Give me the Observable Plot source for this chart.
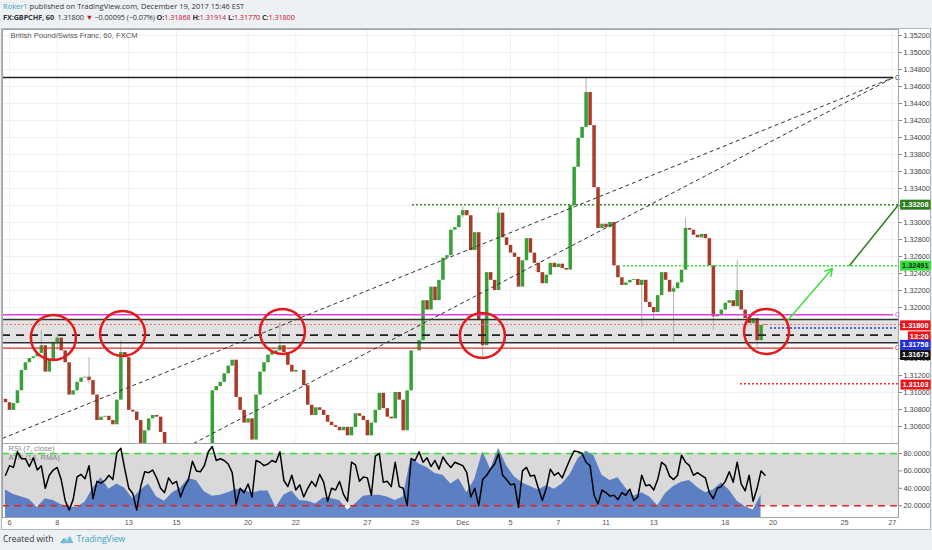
<!DOCTYPE html>
<html>
<head>
<meta charset="utf-8">
<script src="https://cdn.jsdelivr.net/npm/d3@7"></script>
<script src="https://cdn.jsdelivr.net/npm/@observablehq/plot@0.6"></script>
<style>
  body { margin: 0; width: 932px; height: 550px; overflow: hidden; position: relative;
         background: #eef1f4; font-family: "Open Sans", sans-serif; color: #333; }
  .line { position: absolute; left: 3px; white-space: nowrap; }
  #h1 { top: 1px; font-size: 7.5px; }
  #h2 { top: 12px; font-size: 7.3px; letter-spacing: -0.1px; }
  .tv { color: #3ba1c6; }
  .red { color: #c8102e; }
  #frame { position: absolute; left: 1px; top: 28px; width: 930px; height: 502px;
           box-sizing: border-box; border: 1px solid #b4b8bc; background: #fff; }
  #main, #ind { position: absolute; left: 0; }
  #main { top: 0; }
  #ind { top: 414px; }
  #foot { position: absolute; left: 3px; top: 533px; font-size: 8.5px; white-space: nowrap; }
  #foot svg { vertical-align: -3px; margin: 0 3px 0 5px; }
</style>
</head>
<body>
<div id="h1" class="line"><span class="tv">Roker1</span> published on TradingView.com, December 19, 2017 15:46 EST</div>
<div id="h2" class="line"><b>FX:GBPCHF, 60</b>&nbsp; 1.31800 <span class="red">▼</span> −0.00095 (−0.07%) <b>O:</b><span class="red">1.31868</span> <b>H:</b><span class="red">1.31914</span> <b>L:</b><span class="red">1.31770</span> <b>C:</b><span class="red">1.31800</span></div>
<div id="frame"><div id="main"></div><div id="ind"></div></div>
<div id="foot">Created with<svg width="15" height="11" viewBox="0 0 15 11"><path d="M1 9 L5 4 L8 7 L11 2 L14 9 Z" fill="#3ba1c6"/><path d="M3 10 Q1 6 5 6 Q6 2 10 4 Q14 4 13 9 Z" fill="#9fd3e8" opacity="0.6"/></svg><span class="tv">TradingView</span></div>
<script>
// hourly GBPCHF, read every 4 hours (6 bars per trading day), day 0 = Nov 6
const startDay = -1 / 6;
const barsPerDay = 6;
const firstOpen = 1.3092;
const closes = [
  1.3088, 1.3079, 1.3087, 1.3102, 1.3126, 1.3135, 1.3140, 1.3142, 1.3146, 1.3155,
  1.3124, 1.3138, 1.3159, 1.3164, 1.3149, 1.3135, 1.3097, 1.3102, 1.3112, 1.3117,
  1.3118, 1.3114, 1.3097, 1.3067, 1.3071, 1.3072, 1.3067, 1.3062, 1.3091, 1.3147,
  1.3141, 1.3079, 1.3077, 1.3067, 1.3029, 1.3055, 1.3069, 1.3073, 1.3071, 1.3053,
  1.3026, 1.3020, 1.3014, 1.3022, 1.3018, 1.3008, 1.3013, 1.3020, 1.3014, 1.3006,
  1.3011, 1.3020, 1.3102, 1.3107, 1.3112, 1.3122, 1.3131, 1.3138, 1.3094, 1.3079,
  1.3064, 1.3069, 1.3044, 1.3097, 1.3124, 1.3135, 1.3144, 1.3147, 1.3149, 1.3155,
  1.3147, 1.3132, 1.3124, 1.3126, 1.3126, 1.3108, 1.3085, 1.3073, 1.3082, 1.3079,
  1.3073, 1.3065, 1.3061, 1.3059, 1.3055, 1.3059, 1.3049, 1.3059, 1.3075, 1.3072,
  1.3067, 1.3049, 1.3064, 1.3079, 1.3099, 1.3081, 1.3071, 1.3069, 1.3100, 1.3091,
  1.3055, 1.3102, 1.3149, 1.3149, 1.3161, 1.3208, 1.3197, 1.3224, 1.3208, 1.3232,
  1.3258, 1.3261, 1.3291, 1.3294, 1.3308, 1.3314, 1.3308, 1.3267, 1.3288, 1.3185,
  1.3155, 1.3241, 1.3232, 1.3220, 1.3311, 1.3282, 1.3273, 1.3264, 1.3259, 1.3224,
  1.3255, 1.3281, 1.3264, 1.3252, 1.3241, 1.3228, 1.3238, 1.3252, 1.3247, 1.3251,
  1.3246, 1.3244, 1.3320, 1.3365, 1.3399, 1.3412, 1.3453, 1.3414, 1.3341, 1.3293,
  1.3298, 1.3294, 1.3300, 1.3249, 1.3235, 1.3226, 1.3229, 1.3232, 1.3233, 1.3226,
  1.3232, 1.3206, 1.3200, 1.3194, 1.3214, 1.3241, 1.3232, 1.3218, 1.3222, 1.3229,
  1.3244, 1.3293, 1.3291, 1.3285, 1.3282, 1.3286, 1.3281, 1.3249, 1.3189, 1.3191,
  1.3197, 1.3205, 1.3208, 1.3201, 1.3220, 1.3197, 1.3187, 1.3181, 1.3187, 1.3161,
  1.3179, 1.3180
];
// the wicks that stand out
const wickBars  = [9, 13, 21, 29, 69, 115, 120, 124, 146, 160, 163, 168, 171, 178, 184, 189];
const wickHighs = [1.3173, 1.3169, 1.3141, 1.3161, 1.3182, 1.3318, 1.3175, 1.3318, 1.3469, 1.3232, 1.3200, 1.3225, 1.3305, 1.3195, 1.3255, 1.3175];
const wickLows  = [1.3150, 1.3150, 1.3110, 1.3140, 1.3150, 1.3305, 1.3140, 1.3300, 1.3440, 1.3177, 1.3185, 1.3158, 1.3285, 1.3173, 1.3215, 1.3153];

// RSI (7, close), same 4-hour steps
const rsi = [
  55, 66, 64, 82, 74, 74, 65, 75, 61, 66, 40, 55, 61, 64, 50, 26, 15, 27, 53, 56,
  51, 66, 28, 48, 46, 49, 55, 50, 81, 86, 62, 40, 34, 15, 42, 59, 58, 61, 52, 40,
  35, 52, 45, 48, 30, 42, 50, 71, 60, 59, 66, 82, 88, 72, 74, 72, 68, 58, 22, 40,
  35, 45, 30, 72, 70, 66, 68, 72, 70, 82, 49, 42, 55, 38, 44, 30, 40, 48, 42, 56,
  47, 25, 40, 38, 48, 33, 25, 70, 67, 48, 53, 52, 32, 77, 80, 47, 48, 42, 70, 42,
  40, 20, 74, 72, 82, 70, 75, 65, 72, 62, 76, 69, 64, 70, 68, 66, 58, 30, 40, 20,
  50, 55, 62, 68, 80, 55, 50, 44, 45, 18, 60, 64, 54, 55, 40, 26, 40, 62, 55, 58,
  52, 63, 74, 83, 82, 80, 70, 66, 32, 22, 38, 35, 31, 32, 27, 35, 32, 39, 26, 30,
  55, 43, 44, 38, 50, 70, 66, 54, 50, 55, 78, 70, 66, 55, 58, 55, 52, 35, 28, 40,
  42, 48, 59, 47, 70, 45, 37, 55, 25, 40, 60, 55
];
// ATR (14, RMA) as drawn in the same pane, every 8 hours
const atr = [
  38, 33, 30, 27, 18, 28, 26, 21, 19, 18, 24, 40, 52, 39, 45, 40, 28, 38, 45, 30,
  25, 35, 40, 51, 49, 36, 31, 32, 35, 39, 38, 34, 37, 37, 18, 32, 37, 26, 25, 22,
  29, 28, 26, 15, 22, 31, 32, 32, 30, 26, 30, 75, 68, 64, 57, 55, 45, 51, 35, 50,
  82, 62, 86, 66, 53, 46, 42, 38, 43, 39, 45, 56, 74, 83, 77, 55, 49, 52, 40, 31,
  35, 30, 20, 34, 42, 47, 49, 41, 35, 38, 46, 38, 25, 19, 15, 32
];
const rsiLevels = [20, 80];
const rsiTicks = [20, 40, 60, 80];

const tickDays = [0, 2, 5, 7, 10, 12, 15, 17, 19, 21, 23, 25, 27, 30, 32, 35, 37];
const tickLabels = ["6", "8", "13", "15", "20", "22", "27", "29", "Dec", "5", "7", "11", "13", "18", "20", "25", "27"];
// 1.31600 sits under the price tags, so it has no label
const priceTicks = [
  1.306, 1.308, 1.310, 1.312, 1.314, 1.318, 1.320, 1.322, 1.324, 1.326, 1.328, 1.330,
  1.332, 1.334, 1.336, 1.338, 1.340, 1.342, 1.344, 1.346, 1.348, 1.350, 1.352
];

// drawings on the chart
const topLine = 1.34706;
const apexDay = 37.05;
const trendStartDays = [-0.29, 7.71];
const trendStartPrices = [1.3046, 1.3040];
const magentaLine = 1.31914;
const zone = [1.31585, 1.31859];
const midLine = 1.31675;
const redLine = 1.31521;
const targetHigh = 1.33208, targetHighFrom = 16.89;
const targetLow = 1.32491, targetLowFrom = 25.73;
const stopLevel = 1.31103, stopFrom = 30.64;
const bidLevel = 1.31758, bidFrom = 31.9;
const arrowFrom = [32.61, 1.31847], arrowTo = [34.49, 1.32459];
const legFrom = [35.2, 1.32491], legTo = [37.26, 1.33208];
const circleDays = [1.84, 4.74, 11.44, 19.82, 31.73];
const circlePrices = [1.31647, 1.31694, 1.31718, 1.31671, 1.31718];

const tagPrices = [1.33208, 1.32491, 1.31800, 1.31800, 1.31758, 1.31675, 1.31103];
const tagLabels = ["1.33208", "1.32491", "1.31800", "13:20", "1.31758", "1.31675", "1.31103"];
const tagStyle = [
  { bg: "#2f7d1e", fg: "#fff", dy: 0 },
  { bg: "#2fe02f", fg: "#123", dy: 0 },
  { bg: "#e8141a", fg: "#fff", dy: 1 },
  { bg: "#e8141a", fg: "#fff", dy: 12 },
  { bg: "#1c2ee0", fg: "#fff", dy: 17 },
  { bg: "#111111", fg: "#fff", dy: 20 },
  { bg: "#e8141a", fg: "#fff", dy: 1 }
];

const dayOf = (i) => startDay + i / barsPerDay;
const xDomain = [-0.293, 37.26];
const font = "'Liberation Sans', Arial, sans-serif";
const up = "#37a037", down = "#a83c2a";

const candles = closes.map((c, i) => ({
  t: dayOf(i),
  open: i ? closes[i - 1] : firstOpen,
  close: c
}));
const wicks = wickBars.map((b, i) => ({ t: dayOf(b), high: wickHighs[i], low: wickLows[i] }));
const rsiData = rsi.map((v, i) => ({ t: dayOf(i), v }));
const atrData = atr.map((v, k) => ({ t: dayOf(2 * k), v }));
const trends = trendStartDays.map((d, i) => ({ d1: d, p1: trendStartPrices[i], d2: apexDay, p2: topLine }));
const circles = circleDays.map((d, i) => ({ d, p: circlePrices[i] }));
const tags = tagPrices.map((p, i) => ({ p, label: tagLabels[i], ...tagStyle[i] }));
const lastClose = closes[closes.length - 1];
const labelOf = new Map(tickDays.map((d, i) => [d, tickLabels[i]]));

const main = Plot.plot({
  width: 928,
  height: 414,
  marginLeft: 0,
  marginRight: 32,
  marginTop: 0,
  marginBottom: 0,
  style: { background: "transparent", fontFamily: font, overflow: "visible" },
  x: { domain: xDomain, axis: null },
  y: { domain: [1.304, 1.35271] },
  color: { type: "identity" },
  marks: [
    Plot.gridX(tickDays, { stroke: "#eef0f3", strokeOpacity: 1 }),
    Plot.gridY(priceTicks, { stroke: "#eef0f3", strokeOpacity: 1 }),
    Plot.rect([zone], { y1: (z) => z[0], y2: (z) => z[1], fill: "#e2e2e2" }),
    Plot.text(["British Pound/Swiss Franc, 60, FXCM"], {
      frameAnchor: "top-left", dx: 8, dy: 6, lineAnchor: "middle", fill: "#555", fontSize: 7.6
    }),
    Plot.ruleX(wicks, { x: "t", y1: "low", y2: "high", stroke: "#b0b0b0", strokeWidth: 1, clip: true }),
    Plot.ruleX(candles, {
      x: "t", y1: "open", y2: "close",
      stroke: (d) => (d.close >= d.open ? up : down),
      strokeWidth: 3.5, clip: true
    }),
    Plot.ruleY([topLine], { x1: xDomain[0], x2: apexDay, stroke: "#222", strokeWidth: 1.5 }),
    Plot.ruleY([magentaLine], { x1: xDomain[0], x2: apexDay, stroke: "#e040e0", strokeWidth: 1.5 }),
    Plot.ruleY(zone, { stroke: "#333", strokeWidth: 1.5 }),
    Plot.ruleY([lastClose], { stroke: "#f07070", strokeWidth: 1, strokeDasharray: "2,2" }),
    Plot.ruleY([midLine], { stroke: "#222", strokeWidth: 1.8, strokeDasharray: "8,6" }),
    Plot.ruleY([redLine], { x1: xDomain[0], x2: apexDay, stroke: "#e22a2a", strokeWidth: 1.3 }),
    Plot.ruleY([targetHigh], { x1: targetHighFrom, x2: xDomain[1], stroke: "#3c8a26", strokeWidth: 1.5, strokeDasharray: "2,2" }),
    Plot.ruleY([targetLow], { x1: targetLowFrom, x2: xDomain[1], stroke: "#33dd33", strokeWidth: 1.5, strokeDasharray: "2,2" }),
    Plot.ruleY([stopLevel], { x1: stopFrom, x2: xDomain[1], stroke: "#ee2a2a", strokeWidth: 1.5, strokeDasharray: "2,2" }),
    Plot.ruleY([bidLevel], { x1: bidFrom, x2: xDomain[1], stroke: "#2233dd", strokeWidth: 1.5, strokeDasharray: "2,2" }),
    Plot.link(trends, { x1: "d1", y1: "p1", x2: "d2", y2: "p2", stroke: "#333", strokeWidth: 1, strokeDasharray: "4,3" }),
    Plot.text([topLine, magentaLine, redLine], {
      x: apexDay, y: (d) => d, text: () => "C", dx: 4, fontSize: 7,
      fill: (d, i) => ["#222", "#e040e0", "#e22a2a"][i]
    }),
    Plot.link([[legFrom, legTo]], {
      x1: (d) => d[0][0], y1: (d) => d[0][1], x2: (d) => d[1][0], y2: (d) => d[1][1],
      stroke: "#2f7d1e", strokeWidth: 1.5
    }),
    Plot.arrow([[arrowFrom, arrowTo]], {
      x1: (d) => d[0][0], y1: (d) => d[0][1], x2: (d) => d[1][0], y2: (d) => d[1][1],
      stroke: "#3ee03e", strokeWidth: 1.5, headLength: 8
    }),
    Plot.dot(circles, { x: "d", y: "p", r: 22.5, stroke: "#e3191c", strokeWidth: 2.5, fill: "none" }),
    Plot.axisY(priceTicks, {
      anchor: "right", tickFormat: (d) => d.toFixed(5), tickSize: 3, tickPadding: 2,
      fontSize: 7.3, fill: "#444", stroke: "#888", label: null
    }),
    Plot.frame({ stroke: "#a0a4a8" }),
    // price tags last, one mark each, so that they are the last groups of the svg
    ...tags.map((t) =>
      Plot.text([t], {
        y: "p", text: "label", frameAnchor: "right", dx: 30, dy: t.dy, textAnchor: "end",
        fill: t.fg, fontSize: 7.3, fontWeight: "bold"
      })
    )
  ]
});

const ind = Plot.plot({
  width: 928,
  height: 85,
  marginLeft: 0,
  marginRight: 32,
  marginTop: 0,
  marginBottom: 11,
  style: { background: "transparent", fontFamily: font, overflow: "visible" },
  x: { domain: xDomain },
  y: { domain: [6.44, 91.5] },
  marks: [
    Plot.rect([rsiLevels], { y1: (l) => l[0], y2: (l) => l[1], fill: "#d9d9d9" }),
    Plot.text(["RSI (7, close)", "ATR (14, RMA)"], {
      frameAnchor: "left", dx: 6, lineAnchor: "middle",
      y: (d, i) => [86, 75.5][i], fill: "#888", fontSize: 7.6
    }),
    Plot.areaY(atrData, { x: "t", y: "v", fill: "#2a5cb8", fillOpacity: 0.72, clip: true }),
    Plot.ruleY([rsiLevels[1]], { stroke: "#33dd33", strokeWidth: 1.5, strokeDasharray: "7,5" }),
    Plot.ruleY([rsiLevels[0]], { stroke: "#e52222", strokeWidth: 1.5, strokeDasharray: "7,5" }),
    Plot.line(rsiData, { x: "t", y: "v", stroke: "#000", strokeWidth: 1.5, clip: true }),
    Plot.axisY(rsiTicks, {
      anchor: "right", tickFormat: (d) => d.toFixed(4), tickSize: 3, tickPadding: 2,
      fontSize: 7.3, fill: "#444", stroke: "#888", label: null
    }),
    Plot.axisX(tickDays, {
      anchor: "bottom", tickFormat: (d) => labelOf.get(d), tickSize: 0, tickPadding: 2,
      fontSize: 7.3, fill: "#555", label: null
    }),
    Plot.frame({ stroke: "#a0a4a8" })
  ]
});

document.getElementById("main").appendChild(main);
document.getElementById("ind").appendChild(ind);

// coloured boxes behind the price tags on the right scale
const tagGroups = Array.from(main.children).filter((n) => n.tagName === "g").slice(-tags.length);
tagGroups.forEach((g, k) => {
  d3.select(g).selectAll("text").each(function () {
    const b = this.getBBox();
    d3.select(g).insert("rect", () => this)
      .attr("transform", this.getAttribute("transform"))
      .attr("x", b.x - 2).attr("y", b.y - 0.5)
      .attr("width", b.width + 4).attr("height", b.height + 1)
      .attr("fill", tags[k].bg);
  });
});
</script>
</body>
</html>
